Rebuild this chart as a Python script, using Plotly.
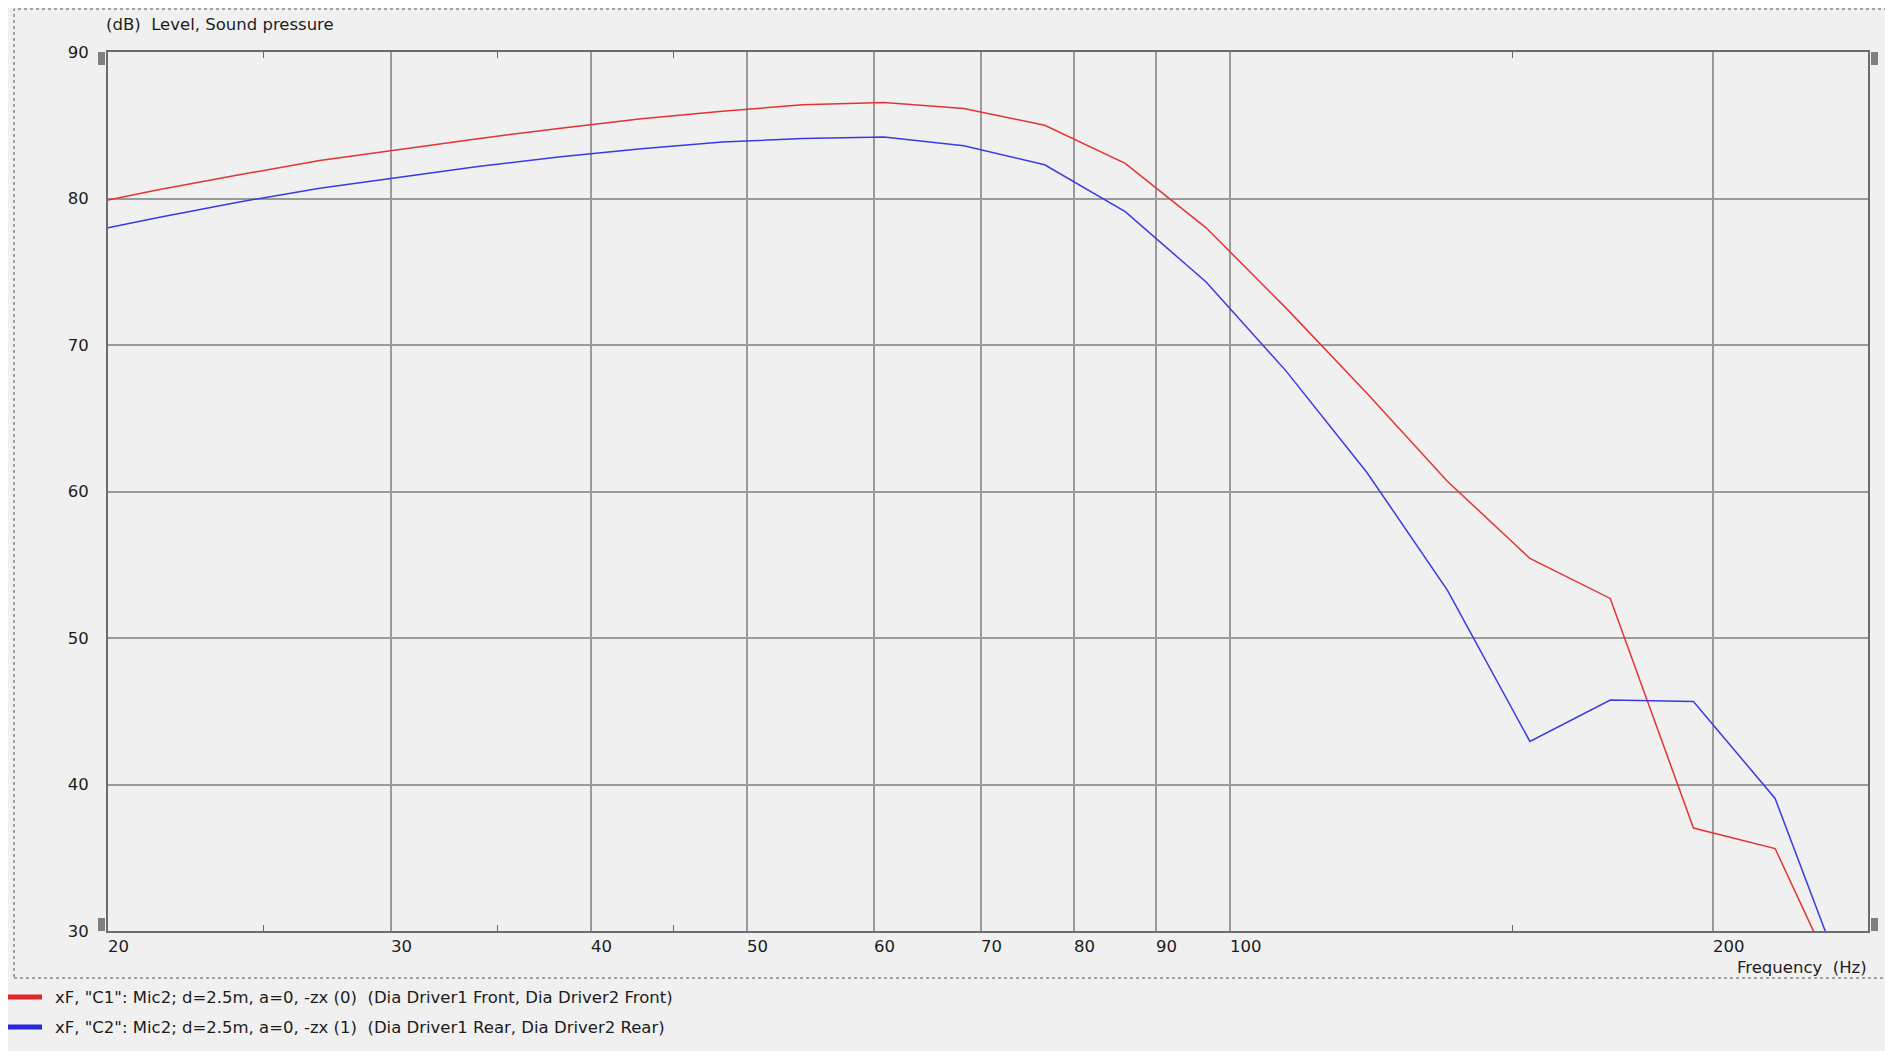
import numpy as np
import plotly.graph_objects as go

# ---- data ----
freq_hz = [20.0, 21.5, 24.1, 27.1, 30.4, 34.1, 38.3, 43.0, 48.3, 54.2, 60.9, 68.3,
           76.7, 86.1, 96.7, 108.5, 121.8, 136.7, 153.9, 172.7, 194.6, 218.8, 245.6]
spl_front = [79.9, 80.6, 81.6, 82.6, 83.35, 84.1, 84.8, 85.45, 85.95, 86.4, 86.55, 86.15,
             85.0, 82.4, 78.0, 72.5, 66.7, 60.7, 55.43, 52.7, 37.03, 35.63, 23.8]
spl_rear = [78.0, 78.7, 79.75, 80.7, 81.45, 82.2, 82.85, 83.4, 83.85, 84.1, 84.2, 83.6,
            82.3, 79.1, 74.3, 68.2, 61.3, 53.27, 42.94, 45.76, 45.67, 39.05, 24.5]

x_ticks = [20, 30, 40, 50, 60, 70, 80, 90, 100, 200]
x_minor = [25, 35, 45, 150]
y_ticks = [30, 40, 50, 60, 70, 80, 90]

name_front = 'xF, "C1": Mic2; d=2.5m, a=0, -zx (0) \u00a0(Dia Driver1 Front, Dia Driver2 Front)'
name_rear = 'xF, "C2": Mic2; d=2.5m, a=0, -zx (1) \u00a0(Dia Driver1 Rear, Dia Driver2 Rear)'
y_title = '(dB) \u00a0Level, Sound pressure'
x_title = 'Frequency \u00a0(Hz)'

RED = 'rgb(226,52,52)'
BLUE = 'rgb(58,58,228)'
RED_SW = 'rgb(222,38,38)'
BLUE_SW = 'rgb(40,40,222)'
BG = '#f0f0f0'
TXT = '#1c1c1c'
GRID = '#9a9a9a'
AXIS = '#6c6c6c'
FONT = 'DejaVu Sans, Noto Sans, sans-serif'
FS = 16.5

OFF = 8  # page body margin
W, H = 1893 - OFF, 1051 - OFF
L, T = 108 - OFF, 52 - OFF
R = W - (1868 - OFF)
B = H - (931 - OFF)
pw = W - L - R
ph = H - T - B


def px_x(X):
    return (X - OFF - L) / pw


def px_y(Y):
    return (H - B - (Y - OFF)) / ph


fig = go.Figure()
fig.add_trace(go.Scatter(x=freq_hz, y=spl_front, mode='lines', name=name_front,
                         line=dict(color=RED, width=1.5), showlegend=False))
fig.add_trace(go.Scatter(x=freq_hz, y=spl_rear, mode='lines', name=name_rear,
                         line=dict(color=BLUE, width=1.5), showlegend=False))

fig.update_layout(
    width=W, height=H,
    margin=dict(l=L, r=R, t=T, b=B),
    paper_bgcolor=BG, plot_bgcolor=BG,
    font=dict(family=FONT, size=FS, color=TXT),
    xaxis=dict(type='log', range=[np.log10(20), np.log10(250)],
               tickmode='array', tickvals=x_ticks, showticklabels=False, ticks='',
               showgrid=True, gridcolor=GRID, gridwidth=2,
               showline=True, mirror=True, linecolor=AXIS, linewidth=2,
               zeroline=False,
               minor=dict(tickmode='array', tickvals=x_minor, ticks='inside', ticklen=6,
                          tickwidth=1, tickcolor=AXIS, showgrid=False)),
    xaxis2=dict(type='log', range=[np.log10(20), np.log10(250)], overlaying='x',
                side='top', matches='x', tickmode='array', tickvals=x_minor,
                ticks='inside', ticklen=6, tickwidth=1, tickcolor=AXIS,
                showticklabels=False, showgrid=False, showline=False, zeroline=False),
    yaxis=dict(range=[30, 90], tickmode='array', tickvals=y_ticks,
               showgrid=True, gridcolor=GRID, gridwidth=2, ticks='',
               ticklabelstandoff=14,
               showline=True, mirror=True, linecolor=AXIS, linewidth=2,
               zeroline=False, tickfont=dict(size=FS, color=TXT)),
)
# dummy trace to activate xaxis2
fig.add_trace(go.Scatter(x=[freq_hz[0]], y=[spl_front[0]], xaxis='x2', mode='lines',
                         line=dict(width=0), hoverinfo='skip', showlegend=False))

ann = []
for v in x_ticks:
    ann.append(dict(x=np.log10(v), y=px_y(946), xref='x', yref='paper', text=str(v),
                    showarrow=False, xanchor='left', yanchor='middle', xshift=-2,
                    font=dict(size=FS, color=TXT)))
ann.append(dict(x=px_x(104), y=px_y(25), xref='paper', yref='paper', text=y_title,
                showarrow=False, xanchor='left', yanchor='middle', font=dict(size=FS, color=TXT)))
ann.append(dict(x=px_x(1869), y=px_y(967), xref='paper', yref='paper', text=x_title,
                showarrow=False, xanchor='right', yanchor='middle', font=dict(size=FS, color=TXT)))
ann.append(dict(x=px_x(53), y=px_y(997), xref='paper', yref='paper', text=name_front,
                showarrow=False, xanchor='left', yanchor='middle', font=dict(size=FS, color=TXT)))
ann.append(dict(x=px_x(53), y=px_y(1027), xref='paper', yref='paper', text=name_rear,
                showarrow=False, xanchor='left', yanchor='middle', font=dict(size=FS, color=TXT)))

shapes = []
# outer dotted frame
shapes.append(dict(type='rect', xref='paper', yref='paper', x0=px_x(14), x1=px_x(1900),
                   y0=px_y(978), y1=px_y(9), line=dict(color='#555555', width=1, dash='dot'),
                   fillcolor='rgba(0,0,0,0)', layer='below'))
# legend swatches
shapes.append(dict(type='line', xref='paper', yref='paper', x0=px_x(8), x1=px_x(42),
                   y0=px_y(997), y1=px_y(997), line=dict(color=RED_SW, width=5)))
shapes.append(dict(type='line', xref='paper', yref='paper', x0=px_x(8), x1=px_x(42),
                   y0=px_y(1027), y1=px_y(1027), line=dict(color=BLUE_SW, width=5)))
# small gray markers at axis ends
for xa, xs in [(0, (-10, -3)), (1, (3, 10))]:
    for ya, ys in [(1, (-13, 0)), (0, (0, 13))]:
        shapes.append(dict(type='rect', xref='x domain', yref='y domain',
                           xsizemode='pixel', ysizemode='pixel', xanchor=xa, yanchor=ya,
                           x0=xs[0], x1=xs[1], y0=ys[0], y1=ys[1],
                           fillcolor='#808080', line=dict(width=0)))

fig.update_layout(annotations=ann, shapes=shapes)
fig.write_html('out.html')
